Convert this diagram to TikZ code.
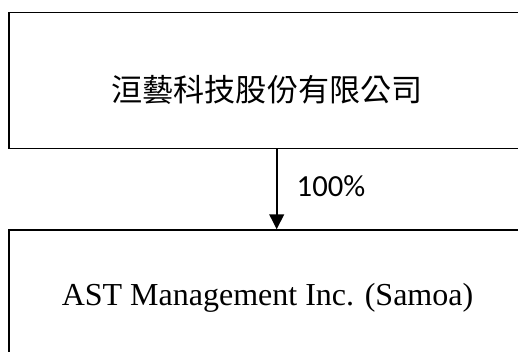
\documentclass[tikz,border=0pt]{standalone}
\usepackage{fontspec}
\setmainfont{Liberation Serif}
\newfontfamily\cjk{Noto Sans CJK TC}
\newfontfamily\calib{Carlito}
\usetikzlibrary{arrows.meta}
\begin{document}
\begin{tikzpicture}[x=0.75pt,y=-0.75pt,
  boxst/.style={draw=black, line width=1.1pt, rectangle, inner sep=0pt},
  lbl/.style={inner sep=0pt, anchor=base},
  conn/.style={line width=1.5pt, -{Triangle[length=11.25pt,width=11pt]}}]
\useasboundingbox (0,0) rectangle (518,351);
\clip (0,0) rectangle (518,351);
\fill[white] (0,0) rectangle (518,351);
\node[boxst, minimum width=387pt, minimum height=101.7pt] (top) at (267,80.5) {};
\node[boxst, minimum width=387pt, minimum height=97.5pt] (bot) at (267,295) {};
\node[lbl, font=\cjk\fontsize{23.3pt}{28pt}\selectfont] (toptxt) at (267,101) {洹藝科技股份有限公司};
\node[lbl, font=\fontsize{24pt}{29pt}\selectfont] (bottxt) at (267.5,305) {AST Management Inc. (Samoa)};
\coordinate (arrx) at (276.7,0);
\draw[conn] (top.south -| arrx) -- (bot.north -| arrx);
\node[lbl, font=\calib\fontsize{23pt}{28pt}\selectfont] (pct) at (331,196) {100\%};
\end{tikzpicture}
\end{document}
